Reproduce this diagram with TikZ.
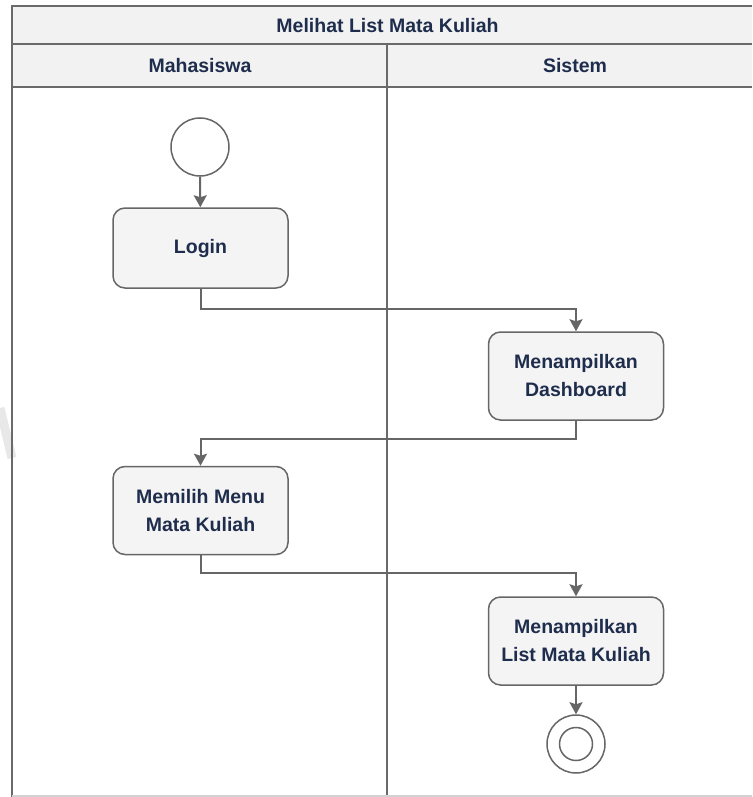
\documentclass[tikz,border=0pt]{standalone}
\usepackage{fontspec}
\setmainfont{Liberation Sans}
\usetikzlibrary{arrows.meta}
\definecolor{inkblue}{HTML}{1F2D4D}
\definecolor{lanegray}{HTML}{6A6A6A}
\definecolor{bandfill}{HTML}{F2F2F2}
\definecolor{boxfill}{HTML}{F4F4F4}
\definecolor{linegray}{HTML}{666666}
\begin{document}
\begin{tikzpicture}[x=1pt,y=-1pt,
  lane/.style={draw=lanegray,line width=2.4pt},
  headtext/.style={text=inkblue,font=\bfseries\fontsize{19.5}{22}\selectfont},
  action/.style={draw=linegray,line width=1.5pt,fill=boxfill,rounded corners=12pt,
    minimum width=175pt,align=center,text=inkblue,
    font=\bfseries\fontsize{19.5}{28}\selectfont,inner sep=0pt},
  startnode/.style={circle,draw=linegray,line width=1.5pt,fill=white,minimum size=58pt,inner sep=0pt},
  endouter/.style={circle,draw=linegray,line width=1.5pt,fill=white,minimum size=58pt,inner sep=0pt},
  endinner/.style={circle,draw=linegray,line width=1.5pt,minimum size=33pt,inner sep=0pt},
  flow/.style={draw=linegray,line width=2pt,-{Stealth[length=12pt,width=13pt,inset=2pt]}}
]
\useasboundingbox (0,0) rectangle (752,797);

% faint stroke at the left margin
\draw[gray!18,line width=9pt] (0,408) -- (12,458);

% title and lane header bands
\fill[bandfill] (12,6) rectangle (752,87);
\draw[lane] (752,6) -- (12,6) -- (12,797);
\draw[lane] (12,44) -- (752,44);
\draw[lane] (12,87) -- (752,87);
\draw[lane] (387,44) -- (387,797);
\draw[gray!35,line width=1.5pt] (12,796) -- (752,796);

\node[headtext] (title) at (387.5,25.5) {Melihat List Mata Kuliah};
\node[headtext] (laneA) at (200,66) {Mahasiswa};
\node[headtext] (laneB) at (575,66) {Sistem};

% activity nodes
\node[startnode] (start) at (200,147) {};
\node[action,minimum height=80pt] (login) at (200.5,248) {Login};
\node[action,minimum height=88pt] (dash) at (576,376) {Menampilkan\\Dashboard};
\node[action,minimum height=88pt] (menu) at (200.5,510.5) {Memilih Menu\\Mata Kuliah};
\node[action,minimum height=88pt] (list) at (576,641) {Menampilkan\\List Mata Kuliah};
\node[endouter] (finish) at (576,744) {};
\node[endinner] (finishdot) at (finish.center) {};

% control flow
\draw[flow] (start) -- (login);
\draw[flow] (login.south) -- ++(0,20) -| (dash.north);
\draw[flow] (dash.south) -- ++(0,18) -| (menu.north);
\draw[flow] (menu.south) -- ++(0,18) -| (list.north);
\draw[flow] (list) -- (finish);
\end{tikzpicture}
\end{document}
